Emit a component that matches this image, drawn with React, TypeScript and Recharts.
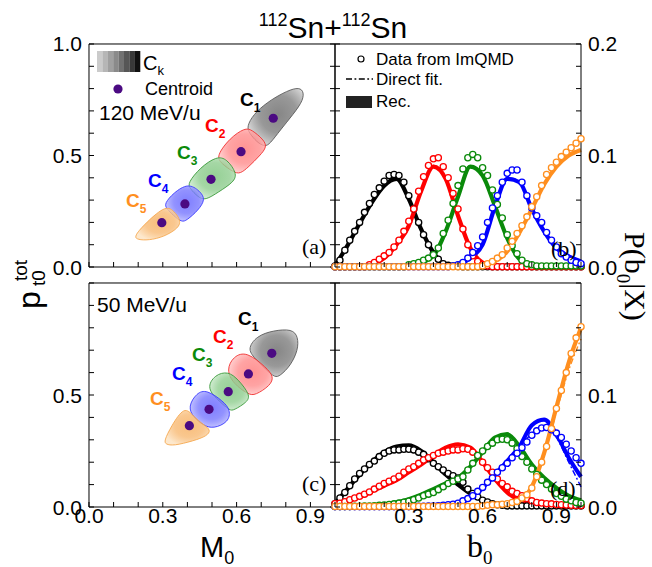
import React from 'react';
import { ComposedChart, Scatter, Line, XAxis, YAxis } from 'recharts';

const W = 652;
const H = 567;
const SANS = '"Liberation Sans", Arial, Helvetica, sans-serif';
const SERIF = '"Liberation Serif", "Times New Roman", serif';

// ---------- ticks / categories ----------
const X_TICKS = [0, 0.1, 0.2, 0.3, 0.4, 0.5, 0.6, 0.7, 0.8, 0.9, 1];
const M_LABELS = [0, 0.3, 0.6, 0.9];
const B_LABELS = [0.3, 0.6, 0.9];
const P_TICKS = [0, 0.1, 0.2, 0.3, 0.4, 0.5, 0.6, 0.7, 0.8, 0.9, 1];
const P_LABELS_TOP = [0, 0.5, 1];
const P_LABELS_BOT = [0, 0.5];
const PROB_TICKS = [0, 0.02, 0.04, 0.06, 0.08, 0.1, 0.12, 0.14, 0.16, 0.18, 0.2];
const PROB_LABELS_TOP = [0, 0.1, 0.2];
const PROB_LABELS_BOT = [0, 0.1];

const B0_POINTS = [0, 0.02, 0.04, 0.06, 0.08, 0.1, 0.12, 0.14, 0.16, 0.18, 0.2, 0.22, 0.24, 0.26, 0.28, 0.3, 0.32, 0.34, 0.36, 0.38, 0.4, 0.42, 0.44, 0.46, 0.48, 0.5, 0.52, 0.54, 0.56, 0.58, 0.6, 0.62, 0.64, 0.66, 0.68, 0.7, 0.72, 0.74, 0.76, 0.78, 0.8, 0.82, 0.84, 0.86, 0.88, 0.9, 0.92, 0.94, 0.96, 0.98, 1];
const B0_LINE = [0, 0.05, 0.1, 0.15, 0.2, 0.25, 0.3, 0.35, 0.4, 0.45, 0.5, 0.55, 0.6, 0.65, 0.7, 0.75, 0.8, 0.85, 0.9, 0.95, 1];

const CLASS_NAMES = ['1', '2', '3', '4', '5'];
const CLASS_COLORS = ['#000000', '#ff0000', '#0a8a0a', '#0000ff', '#ff8f1f'];
const REGION_STROKES = ['#5a5a5a', '#f03030', '#3a9a3a', '#3a3aff', '#f5a850'];
const REGION_INNER = ['#7c7c7c', '#ff8a8a', '#8ccc8c', '#7474ff', '#f8b870'];
const REGION_OUTER = ['#d6d6d6', '#ffd6d6', '#d8f0d8', '#cacaff', '#fde6c8'];
const CENTROID_COLOR = '#4b0a82';

// ---------- panel (a): 120 MeV/u, M0 vs p_t0^tot ----------
const A_C1 = [[0.641, 0.629], [0.668, 0.684], [0.722, 0.737], [0.79, 0.782], [0.846, 0.806], [0.872, 0.793], [0.872, 0.749], [0.832, 0.687], [0.776, 0.612], [0.736, 0.553], [0.715, 0.539], [0.682, 0.56], [0.652, 0.6]];
const A_C2 = [[0.517, 0.497], [0.573, 0.579], [0.634, 0.624], [0.661, 0.616], [0.709, 0.572], [0.724, 0.539], [0.695, 0.5], [0.648, 0.448], [0.614, 0.417], [0.587, 0.425], [0.537, 0.465]];
const A_C3 = [[0.402, 0.377], [0.451, 0.445], [0.519, 0.497], [0.56, 0.485], [0.602, 0.42], [0.589, 0.381], [0.526, 0.336], [0.472, 0.298], [0.444, 0.313], [0.409, 0.353]];
const A_C4 = [[0.307, 0.285], [0.343, 0.332], [0.404, 0.377], [0.451, 0.34], [0.474, 0.304], [0.444, 0.254], [0.397, 0.209], [0.377, 0.201], [0.343, 0.231], [0.314, 0.263]];
const A_C5 = [[0.186, 0.139], [0.219, 0.185], [0.309, 0.276], [0.343, 0.255], [0.379, 0.203], [0.352, 0.164], [0.289, 0.129], [0.228, 0.119], [0.192, 0.125]];
const A_CENTROIDS = [[0.749, 0.667], [0.618, 0.517], [0.496, 0.393], [0.39, 0.283], [0.296, 0.199]];

// ---------- panel (c): 50 MeV/u ----------
const C_C1 = [[0.641, 0.703], [0.682, 0.764], [0.749, 0.788], [0.826, 0.795], [0.85, 0.76], [0.85, 0.701], [0.819, 0.63], [0.776, 0.585], [0.756, 0.578], [0.722, 0.61], [0.682, 0.656]];
const C_C2 = [[0.558, 0.612], [0.587, 0.673], [0.641, 0.695], [0.722, 0.621], [0.751, 0.582], [0.738, 0.543], [0.675, 0.498], [0.648, 0.502], [0.587, 0.55]];
const C_C3 = [[0.476, 0.53], [0.512, 0.591], [0.566, 0.606], [0.607, 0.569], [0.656, 0.5], [0.643, 0.468], [0.587, 0.431], [0.573, 0.431], [0.533, 0.468]];
const C_C4 = [[0.402, 0.448], [0.438, 0.51], [0.478, 0.524], [0.546, 0.472], [0.575, 0.433], [0.568, 0.379], [0.505, 0.349], [0.465, 0.364], [0.424, 0.401]];
const C_C5 = [[0.305, 0.295], [0.334, 0.36], [0.388, 0.452], [0.424, 0.405], [0.465, 0.368], [0.496, 0.344], [0.48, 0.317], [0.424, 0.295], [0.343, 0.273], [0.312, 0.28]];
const C_CENTROIDS = [[0.743, 0.686], [0.648, 0.594], [0.566, 0.515], [0.488, 0.436], [0.408, 0.363]];

// ---------- panel (b): P(b0|X), 120 MeV/u ----------
const B_BLACK_PTS = [0.001, 0.006, 0.015, 0.024, 0.032, 0.040, 0.049, 0.057, 0.065, 0.071, 0.077, 0.082, 0.083, 0.082, 0.076, 0.064, 0.052, 0.040, 0.029, 0.020, 0.012, 0.007, 0.003, 0.0015, 0.001, 0.0005, 0.0003, 0.0003, 0.0003, 0.0003, 0.0003, 0.0003, 0.0003, 0.0003, 0.0003, 0.0003, 0.0003, 0.0003, 0.0003, 0.0003, 0.0003, 0.0003, 0.0003, 0.0003, 0.0003, 0.0003, 0.0003, 0.0003, 0.0003, 0.0003, 0.0003];
const B_RED_PTS = [0.0003, 0.0003, 0.0003, 0.0003, 0.0003, 0.0003, 0.0003, 0.002, 0.004, 0.007, 0.010, 0.013, 0.018, 0.024, 0.032, 0.041, 0.052, 0.068, 0.081, 0.091, 0.097, 0.098, 0.090, 0.080, 0.066, 0.052, 0.034, 0.020, 0.010, 0.005, 0.002, 0.001, 0.0003, 0.0003, 0.0003, 0.0003, 0.0003, 0.0003, 0.0003, 0.0003, 0.0003, 0.0003, 0.0003, 0.0003, 0.0003, 0.0003, 0.0003, 0.0003, 0.0003, 0.0003, 0.0003];
const B_GREEN_PTS = [0.0003, 0.0003, 0.0003, 0.0003, 0.0003, 0.0003, 0.0003, 0.0003, 0.0003, 0.0003, 0.0003, 0.0003, 0.0003, 0.0003, 0.0003, 0.002, 0.003, 0.004, 0.006, 0.008, 0.011, 0.017, 0.030, 0.042, 0.057, 0.073, 0.088, 0.098, 0.101, 0.098, 0.089, 0.082, 0.069, 0.056, 0.044, 0.029, 0.019, 0.012, 0.006, 0.003, 0.002, 0.001, 0.001, 0.001, 0.001, 0.001, 0.001, 0.001, 0.001, 0.001, 0.001];
const B_BLUE_PTS = [0.0003, 0.0003, 0.0003, 0.0003, 0.0003, 0.0003, 0.0003, 0.0003, 0.0003, 0.0003, 0.0003, 0.0003, 0.0003, 0.0003, 0.0003, 0.0003, 0.0003, 0.0003, 0.0003, 0.0003, 0.0003, 0.0003, 0.0003, 0.0003, 0.001, 0.002, 0.004, 0.008, 0.013, 0.019, 0.027, 0.040, 0.053, 0.064, 0.076, 0.084, 0.087, 0.087, 0.076, 0.064, 0.053, 0.046, 0.040, 0.031, 0.024, 0.018, 0.012, 0.009, 0.006, 0.004, 0.003];
const B_ORANGE_PTS = [0.0003, 0.0003, 0.0003, 0.0003, 0.0003, 0.0003, 0.0003, 0.0003, 0.0003, 0.0003, 0.0003, 0.0003, 0.0003, 0.0003, 0.0003, 0.0003, 0.0003, 0.0003, 0.0003, 0.0003, 0.0003, 0.0003, 0.0003, 0.0003, 0.0003, 0.0003, 0.0003, 0.0003, 0.0003, 0.0003, 0.001, 0.003, 0.005, 0.008, 0.011, 0.017, 0.023, 0.030, 0.037, 0.045, 0.054, 0.063, 0.073, 0.083, 0.089, 0.094, 0.099, 0.103, 0.107, 0.111, 0.115];

const B_BLACK_REC = [0.001, 0.019, 0.039, 0.058, 0.073, 0.079, 0.061, 0.034, 0.013, 0.002, 0.0005, 0, 0, 0, 0, 0, 0, 0, 0, 0, 0];
const B_RED_REC = [0, 0.0003, 0.001, 0.003, 0.008, 0.020, 0.037, 0.068, 0.090, 0.079, 0.046, 0.017, 0.004, 0.001, 0, 0, 0, 0, 0, 0, 0];
const B_GREEN_REC = [0, 0, 0, 0, 0, 0.0003, 0.001, 0.004, 0.010, 0.032, 0.063, 0.090, 0.082, 0.055, 0.026, 0.007, 0.002, 0.0005, 0, 0, 0];
const B_BLUE_REC = [0, 0, 0, 0, 0, 0, 0, 0, 0.0002, 0.0005, 0.002, 0.008, 0.020, 0.054, 0.079, 0.076, 0.052, 0.032, 0.017, 0.0095, 0.005];
const B_ORANGE_REC = [0, 0, 0, 0, 0, 0, 0, 0, 0, 0, 0, 0.0003, 0.002, 0.005, 0.014, 0.031, 0.052, 0.074, 0.090, 0.100, 0.105];

const B_BLACK_FIT = [0.001, 0.019, 0.040, 0.058, 0.074, 0.080, 0.062, 0.034, 0.013, 0.003, 0.0005, 0, 0, 0, 0, 0, 0, 0, 0, 0, 0];
const B_RED_FIT = [0, 0.0003, 0.001, 0.003, 0.009, 0.021, 0.038, 0.069, 0.091, 0.080, 0.046, 0.016, 0.004, 0.001, 0, 0, 0, 0, 0, 0, 0];
const B_GREEN_FIT = [0, 0, 0, 0, 0, 0.0003, 0.001, 0.004, 0.011, 0.033, 0.064, 0.091, 0.083, 0.055, 0.025, 0.007, 0.002, 0.0005, 0, 0, 0];
const B_BLUE_FIT = [0, 0, 0, 0, 0, 0, 0, 0, 0.0002, 0.0005, 0.002, 0.008, 0.021, 0.055, 0.080, 0.077, 0.053, 0.033, 0.018, 0.010, 0.006];
const B_ORANGE_FIT = [0, 0, 0, 0, 0, 0, 0, 0, 0, 0, 0, 0.0003, 0.002, 0.005, 0.014, 0.032, 0.053, 0.075, 0.091, 0.101, 0.106];

// ---------- panel (d): P(b0|X), 50 MeV/u ----------
const D_BLACK_PTS = [0.003, 0.008, 0.013, 0.019, 0.025, 0.030, 0.034, 0.038, 0.041, 0.045, 0.048, 0.050, 0.051, 0.051, 0.0515, 0.0515, 0.051, 0.049, 0.047, 0.043, 0.039, 0.036, 0.033, 0.030, 0.028, 0.026, 0.022, 0.016, 0.012, 0.009, 0.006, 0.0045, 0.003, 0.002, 0.0015, 0.001, 0.001, 0.001, 0.001, 0.001, 0.001, 0.001, 0.001, 0.001, 0.001, 0.001, 0.001, 0.001, 0.001, 0.001, 0.001];
const D_RED_PTS = [0.003, 0.0033, 0.0047, 0.0065, 0.008, 0.0095, 0.0115, 0.0135, 0.016, 0.0185, 0.021, 0.023, 0.025, 0.0275, 0.031, 0.034, 0.036, 0.039, 0.042, 0.044, 0.046, 0.048, 0.049, 0.050, 0.051, 0.051, 0.052, 0.0515, 0.049, 0.046, 0.040, 0.035, 0.031, 0.025, 0.021, 0.018, 0.014, 0.012, 0.010, 0.0075, 0.0055, 0.004, 0.0035, 0.003, 0.0028, 0.0022, 0.002, 0.0018, 0.0015, 0.0014, 0.0013];
const D_GREEN_PTS = [0.0005, 0.0005, 0.0005, 0.0005, 0.0006, 0.0007, 0.0008, 0.001, 0.0012, 0.0015, 0.0018, 0.0022, 0.0028, 0.0035, 0.0042, 0.0052, 0.0065, 0.008, 0.010, 0.0115, 0.013, 0.0155, 0.018, 0.021, 0.023, 0.025, 0.027, 0.033, 0.039, 0.046, 0.050, 0.054, 0.057, 0.060, 0.0605, 0.060, 0.057, 0.052, 0.045, 0.040, 0.034, 0.029, 0.024, 0.020, 0.016, 0.012, 0.0095, 0.007, 0.0055, 0.004, 0.0033];
const D_BLUE_PTS = [0.0003, 0.0003, 0.0003, 0.0003, 0.0003, 0.0003, 0.0003, 0.0003, 0.0003, 0.0003, 0.0003, 0.0003, 0.0003, 0.0003, 0.0003, 0.0003, 0.0005, 0.0006, 0.0007, 0.0008, 0.001, 0.0012, 0.0015, 0.002, 0.0025, 0.0033, 0.0055, 0.0075, 0.010, 0.014, 0.0175, 0.022, 0.026, 0.031, 0.035, 0.039, 0.044, 0.048, 0.053, 0.058, 0.064, 0.068, 0.0705, 0.071, 0.069, 0.066, 0.062, 0.056, 0.050, 0.044, 0.039];
const D_ORANGE_PTS = [0.0005, 0.0005, 0.0005, 0.0005, 0.0005, 0.0005, 0.0005, 0.0005, 0.0005, 0.0005, 0.0005, 0.0005, 0.0005, 0.0005, 0.0005, 0.0005, 0.0005, 0.0005, 0.0005, 0.0005, 0.0005, 0.0005, 0.0005, 0.0005, 0.0005, 0.0005, 0.0005, 0.0005, 0.0005, 0.0005, 0.001, 0.0015, 0.002, 0.002, 0.0025, 0.003, 0.004, 0.005, 0.008, 0.011, 0.017, 0.027, 0.040, 0.054, 0.070, 0.088, 0.104, 0.120, 0.137, 0.151, 0.161];

const D_BLACK_REC = [0.003, 0.016, 0.029, 0.040, 0.049, 0.054, 0.055, 0.050, 0.040, 0.029, 0.020, 0.012, 0.006, 0.002, 0.001, 0.0003, 0.0003, 0.0003, 0.0003, 0.0003, 0.0003];
const D_RED_REC = [0.002, 0.005, 0.009, 0.014, 0.019, 0.024, 0.031, 0.038, 0.046, 0.053, 0.056, 0.053, 0.040, 0.025, 0.013, 0.006, 0.003, 0.0015, 0.001, 0.0005, 0.0003];
const D_GREEN_REC = [0.0005, 0.0005, 0.0005, 0.001, 0.002, 0.004, 0.007, 0.011, 0.016, 0.021, 0.026, 0.036, 0.049, 0.062, 0.065, 0.054, 0.038, 0.026, 0.017, 0.010, 0.006];
const D_BLUE_REC = [0.0003, 0.0003, 0.0003, 0.0003, 0.0003, 0.0003, 0.0003, 0.0005, 0.001, 0.0015, 0.003, 0.008, 0.017, 0.029, 0.041, 0.054, 0.073, 0.078, 0.065, 0.044, 0.027];
const D_ORANGE_REC = [0.0005, 0.0005, 0.0005, 0.0005, 0.0005, 0.0005, 0.0005, 0.0005, 0.0005, 0.0005, 0.0005, 0.0005, 0.001, 0.002, 0.003, 0.006, 0.018, 0.048, 0.089, 0.129, 0.160];

const D_BLACK_FIT = [0.003, 0.016, 0.030, 0.041, 0.048, 0.052, 0.053, 0.049, 0.040, 0.030, 0.021, 0.013, 0.006, 0.003, 0.001, 0.0005, 0.0003, 0.0003, 0.0003, 0.0003, 0.0003];
const D_RED_FIT = [0.003, 0.006, 0.010, 0.015, 0.021, 0.027, 0.033, 0.040, 0.046, 0.050, 0.052, 0.050, 0.040, 0.026, 0.014, 0.007, 0.003, 0.002, 0.001, 0.0005, 0.0003];
const D_GREEN_FIT = [0.0005, 0.0005, 0.0005, 0.001, 0.002, 0.004, 0.006, 0.010, 0.015, 0.020, 0.026, 0.037, 0.050, 0.059, 0.061, 0.051, 0.036, 0.024, 0.015, 0.008, 0.004];
const D_BLUE_FIT = [0.0003, 0.0003, 0.0003, 0.0003, 0.0003, 0.0003, 0.0003, 0.0005, 0.001, 0.0015, 0.003, 0.008, 0.018, 0.030, 0.041, 0.052, 0.066, 0.072, 0.062, 0.040, 0.018];
const D_ORANGE_FIT = [0.0005, 0.0005, 0.0005, 0.0005, 0.0005, 0.0005, 0.0005, 0.0005, 0.0005, 0.0005, 0.0005, 0.0005, 0.001, 0.002, 0.003, 0.006, 0.017, 0.046, 0.085, 0.122, 0.150];

// ---------- helpers ----------
type Pair = number[];
const pairsToXY = (p: Pair[]) => p.map(([x, y]) => ({ x, y }));
const onGrid = (grid: number[], vals: number[]) => grid.map((x, i) => ({ x, y: vals[i] }));
const hasLabel = (labels: number[] | null, v: number) =>
  !!labels && labels.some((l) => Math.abs(l - v) < 1e-6);

type Box = { x0: number; x1: number; y0: number; y1: number };
const BOX_A: Box = { x0: 89, x1: 335, y0: 44, y1: 267 };
const BOX_B: Box = { x0: 335, x1: 581, y0: 44, y1: 267 };
const BOX_C: Box = { x0: 89, x1: 335, y0: 283, y1: 507 };
const BOX_D: Box = { x0: 335, x1: 581, y0: 283, y1: 507 };

const LINE_STYLE = { stroke: '#000', strokeWidth: 1 };
const AX = 0.01; // near-zero axis thickness so the frame sits on the plot edge
const TL = 5; // inward tick length
const TICK_FONT = 21;

// Tick renderers: each draws an inward tick mark and (optionally) the label,
// at the coordinate that the axis scale hands over.
const bottomTick = (labels: number[] | null, box: Box) => (p: any) => {
  const v = Number(p.payload && p.payload.value);
  return (
    <g>
      <line x1={p.x} x2={p.x} y1={box.y1} y2={box.y1 - TL} stroke="#000" strokeWidth={1} />
      {hasLabel(labels, v) && (
        <text x={p.x} y={box.y1 + 16} textAnchor="middle" fontSize={TICK_FONT} fontFamily={SANS} fill="#000">
          {v.toFixed(1)}
        </text>
      )}
    </g>
  );
};
const topTick = (box: Box) => (p: any) => (
  <line x1={p.x} x2={p.x} y1={box.y0} y2={box.y0 + TL} stroke="#000" strokeWidth={1} />
);
const leftTick = (labels: number[] | null, box: Box) => (p: any) => {
  const v = Number(p.payload && p.payload.value);
  return (
    <g>
      <line x1={box.x0} x2={box.x0 + TL} y1={p.y} y2={p.y} stroke="#000" strokeWidth={1} />
      {hasLabel(labels, v) && (
        <text x={box.x0 - 7} y={p.y + 7.5} textAnchor="end" fontSize={TICK_FONT} fontFamily={SANS} fill="#000">
          {v.toFixed(1)}
        </text>
      )}
    </g>
  );
};
const rightTick = (labels: number[] | null, box: Box) => (p: any) => {
  const v = Number(p.payload && p.payload.value);
  return (
    <g>
      <line x1={box.x1} x2={box.x1 - TL} y1={p.y} y2={p.y} stroke="#000" strokeWidth={1} />
      {hasLabel(labels, v) && (
        <text x={box.x1 + 7} y={p.y + 7.5} textAnchor="start" fontSize={TICK_FONT} fontFamily={SANS} fill="#000">
          {v.toFixed(1)}
        </text>
      )}
    </g>
  );
};

function renderPanel(
  box: Box,
  opts: {
    xLabels: number[] | null;
    yTicks: number[];
    yDomain: number[];
    yLabels: number[];
    ySide: 'left' | 'right';
  },
  series: React.ReactNode[]
) {
  const margin = { top: box.y0 - AX, left: box.x0 - AX, right: W - box.x1 - AX, bottom: H - box.y1 - AX };
  return (
    <div style={{ position: 'absolute', left: 0, top: 0 }}>
      <ComposedChart width={W} height={H} margin={margin}>
        <XAxis
          xAxisId="xb"
          dataKey="x"
          type="number"
          domain={[0, 1]}
          ticks={X_TICKS}
          interval={0}
          orientation="bottom"
          mirror
          height={AX}
          tickSize={0}
          tickMargin={0}
          axisLine={LINE_STYLE}
          tickLine={false}
          tick={bottomTick(opts.xLabels, box)}
        />
        <XAxis
          xAxisId="xt"
          type="number"
          domain={[0, 1]}
          allowDataOverflow
          ticks={X_TICKS}
          interval={0}
          orientation="top"
          mirror
          height={AX}
          tickSize={0}
          tickMargin={0}
          axisLine={LINE_STYLE}
          tickLine={false}
          tick={topTick(box)}
        />
        <YAxis
          yAxisId="yl"
          dataKey="y"
          type="number"
          domain={opts.yDomain}
          allowDataOverflow={opts.ySide !== 'left'}
          ticks={opts.yTicks}
          interval={0}
          orientation="left"
          mirror
          width={AX}
          tickSize={0}
          tickMargin={0}
          axisLine={LINE_STYLE}
          tickLine={false}
          tick={leftTick(opts.ySide === 'left' ? opts.yLabels : null, box)}
        />
        <YAxis
          yAxisId="yr"
          dataKey="y"
          type="number"
          domain={opts.yDomain}
          allowDataOverflow={opts.ySide !== 'right'}
          ticks={opts.yTicks}
          interval={0}
          orientation="right"
          mirror
          width={AX}
          tickSize={0}
          tickMargin={0}
          axisLine={LINE_STYLE}
          tickLine={false}
          tick={rightTick(opts.ySide === 'right' ? opts.yLabels : null, box)}
        />
        {series.map((s, i) => (
          <React.Fragment key={i}>{s}</React.Fragment>
        ))}
      </ComposedChart>
    </div>
  );
}

const EmptyShape = () => <g />;

function regionSeries(regions: Pair[][], centroids: Pair[], prefix: string) {
  const out: React.ReactNode[] = [];
  regions.forEach((reg, k) => {
    out.push(
      <Scatter
        key={`${prefix}r${k}`}
        xAxisId="xb"
        yAxisId="yl"
        data={pairsToXY(reg)}
        dataKey="y"
        isAnimationActive={false}
        shape={EmptyShape}
        line={{ stroke: REGION_STROKES[k], strokeWidth: 0.9, fill: `url(#reg${k})`, fillOpacity: 0.92 }}
        lineType="joint"
        lineJointType="basisClosed"
      />
    );
  });
  out.push(
    <Scatter
      key={`${prefix}c`}
      xAxisId="xb"
      yAxisId="yl"
      data={pairsToXY(centroids)}
      dataKey="y"
      isAnimationActive={false}
      fill={CENTROID_COLOR}
      shape={(p: any) => <circle cx={p.cx} cy={p.cy} r={4.6} fill={CENTROID_COLOR} />}
    />
  );
  return out;
}

function curveSeries(pts: number[][], rec: number[][], fit: number[][], prefix: string) {
  const out: React.ReactNode[] = [];
  CLASS_COLORS.forEach((c, k) => {
    out.push(
      <Line
        key={`${prefix}rec${k}`}
        xAxisId="xb"
        yAxisId="yr"
        data={onGrid(B0_LINE, rec[k])}
        dataKey="y"
        type="monotone"
        stroke={c}
        strokeWidth={4.2}
        dot={false}
        activeDot={false}
        isAnimationActive={false}
      />
    );
    out.push(
      <Line
        key={`${prefix}fit${k}`}
        xAxisId="xb"
        yAxisId="yr"
        data={onGrid(B0_LINE, fit[k])}
        dataKey="y"
        type="monotone"
        stroke={c}
        strokeWidth={1.4}
        strokeDasharray="6 2.5 1.8 2.5"
        dot={false}
        activeDot={false}
        isAnimationActive={false}
      />
    );
  });
  CLASS_COLORS.forEach((c, k) => {
    out.push(
      <Scatter
        key={`${prefix}pts${k}`}
        xAxisId="xb"
        yAxisId="yr"
        data={onGrid(B0_POINTS, pts[k])}
        dataKey="y"
        isAnimationActive={false}
        shape={(p: any) => (
          <circle cx={p.cx} cy={p.cy} r={3.1} fill="#fff" stroke={c} strokeWidth={1.3} />
        )}
      />
    );
  });
  return out;
}

function ClassLabel({ x, y, k }: { x: number; y: number; k: number }) {
  return (
    <text x={x} y={y} fontFamily={SANS} fontWeight="bold" fontSize={19} fill={CLASS_COLORS[k]}>
      C
      <tspan fontSize={12} dy={6}>
        {CLASS_NAMES[k]}
      </tspan>
    </text>
  );
}

const LEGEND_GRAYS = ['#cbcbcb', '#b6b6b6', '#a0a0a0', '#8a8a8a', '#717171', '#565656', '#393939', '#111111'];

export default function App() {
  const regionsA = [A_C1, A_C2, A_C3, A_C4, A_C5];
  const regionsC = [C_C1, C_C2, C_C3, C_C4, C_C5];
  return (
    <div style={{ position: 'absolute', left: 0, top: 0, width: W, height: H, background: '#fff', overflow: 'hidden' }}>
      <svg width={0} height={0} style={{ position: 'absolute' }}>
        <defs>
          {REGION_INNER.map((inner, k) => (
            <radialGradient key={k} id={`reg${k}`} cx="0.55" cy="0.45" r="0.6">
              <stop offset="0%" stopColor={inner} />
              <stop offset="55%" stopColor={inner} stopOpacity={0.85} />
              <stop offset="100%" stopColor={REGION_OUTER[k]} />
            </radialGradient>
          ))}
        </defs>
      </svg>

      {renderPanel(BOX_A, { xLabels: null, yTicks: P_TICKS, yDomain: [0, 1], yLabels: P_LABELS_TOP, ySide: 'left' }, regionSeries(regionsA, A_CENTROIDS, 'a'))}
      {renderPanel(BOX_C, { xLabels: M_LABELS, yTicks: P_TICKS, yDomain: [0, 1], yLabels: P_LABELS_BOT, ySide: 'left' }, regionSeries(regionsC, C_CENTROIDS, 'c'))}
      {renderPanel(
        BOX_B,
        { xLabels: null, yTicks: PROB_TICKS, yDomain: [0, 0.2], yLabels: PROB_LABELS_TOP, ySide: 'right' },
        curveSeries(
          [B_BLACK_PTS, B_RED_PTS, B_GREEN_PTS, B_BLUE_PTS, B_ORANGE_PTS],
          [B_BLACK_REC, B_RED_REC, B_GREEN_REC, B_BLUE_REC, B_ORANGE_REC],
          [B_BLACK_FIT, B_RED_FIT, B_GREEN_FIT, B_BLUE_FIT, B_ORANGE_FIT],
          'b'
        )
      )}
      {renderPanel(
        BOX_D,
        { xLabels: B_LABELS, yTicks: PROB_TICKS, yDomain: [0, 0.2], yLabels: PROB_LABELS_BOT, ySide: 'right' },
        curveSeries(
          [D_BLACK_PTS, D_RED_PTS, D_GREEN_PTS, D_BLUE_PTS, D_ORANGE_PTS],
          [D_BLACK_REC, D_RED_REC, D_GREEN_REC, D_BLUE_REC, D_ORANGE_REC],
          [D_BLACK_FIT, D_RED_FIT, D_GREEN_FIT, D_BLUE_FIT, D_ORANGE_FIT],
          'd'
        )
      )}

      <svg width={W} height={H} style={{ position: 'absolute', left: 0, top: 0, pointerEvents: 'none' }}>
        {/* title */}
        <text x={333} y={38} textAnchor="middle" fontFamily={SANS} fontSize={30} fill="#000">
          <tspan fontSize={18} dy={-12}>112</tspan>
          <tspan dy={12}>Sn+</tspan>
          <tspan fontSize={18} dy={-12}>112</tspan>
          <tspan dy={12}>Sn</tspan>
        </text>

        {/* axis titles */}
        <text x={200} y={557} fontFamily={SANS} fontSize={29} fill="#000">
          M<tspan fontSize={18} dy={7}>0</tspan>
        </text>
        <text x={467} y={557} fontFamily={SERIF} fontSize={32} fill="#000">
          b<tspan fontSize={19} dy={7}>0</tspan>
        </text>
        <text transform="translate(40,309) rotate(-90)" fontFamily={SANS} fontSize={32} fill="#000">
          p
          <tspan x={23} y={5} fontSize={19}>t0</tspan>
          <tspan x={28} y={-13} fontSize={19}>tot</tspan>
        </text>
        <text transform="translate(625,232) rotate(90)" fontFamily={SERIF} fontSize={30} fill="#000">
          P(b<tspan fontSize={19} dy={8}>0</tspan>
          <tspan dy={-8}>|X)</tspan>
        </text>

        {/* panel (a) legend */}
        {LEGEND_GRAYS.map((g, i) => (
          <rect key={i} x={97 + i * 5.4} y={51} width={5.5} height={21} fill={g} />
        ))}
        <text x={143} y={70} fontFamily={SANS} fontSize={20} fill="#000">
          C<tspan fontSize={13} dy={5}>k</tspan>
        </text>
        <circle cx={118} cy={89} r={4.6} fill={CENTROID_COLOR} />
        <text x={145} y={95} fontFamily={SANS} fontSize={18} fill="#000">Centroid</text>
        <text x={99} y={120} fontFamily={SANS} fontSize={21} fill="#000">120 MeV/u</text>
        <text x={97} y={312} fontFamily={SANS} fontSize={21} fill="#000">50 MeV/u</text>

        {/* class labels */}
        <ClassLabel x={240} y={106} k={0} />
        <ClassLabel x={205} y={132} k={1} />
        <ClassLabel x={177} y={159} k={2} />
        <ClassLabel x={148} y={187} k={3} />
        <ClassLabel x={126} y={207} k={4} />
        <ClassLabel x={238} y={325} k={0} />
        <ClassLabel x={213} y={343} k={1} />
        <ClassLabel x={192} y={361} k={2} />
        <ClassLabel x={172} y={380} k={3} />
        <ClassLabel x={150} y={405} k={4} />

        {/* panel (b) legend */}
        <circle cx={361} cy={59} r={3} fill="#fff" stroke="#000" strokeWidth={1.2} />
        <text x={376} y={65} fontFamily={SANS} fontSize={17} fill="#000">Data from ImQMD</text>
        <line x1={346} y1={79} x2={373} y2={79} stroke="#000" strokeWidth={1.5} strokeDasharray="6 2.5 1.8 2.5" />
        <text x={376} y={85} fontFamily={SANS} fontSize={17} fill="#000">Direct fit.</text>
        <rect x={346} y={96} width={26} height={12} fill="#222" />
        <text x={376} y={107} fontFamily={SANS} fontSize={17} fill="#000">Rec.</text>

        {/* panel tags */}
        <text x={302} y={254} fontFamily={SERIF} fontSize={22} fill="#000">(a)</text>
        <text x={551} y={256} fontFamily={SERIF} fontSize={22} fill="#000">(b)</text>
        <text x={302} y={491} fontFamily={SERIF} fontSize={22} fill="#000">(c)</text>
        <text x={550} y={496} fontFamily={SERIF} fontSize={22} fill="#000">(d)</text>
      </svg>
    </div>
  );
}
